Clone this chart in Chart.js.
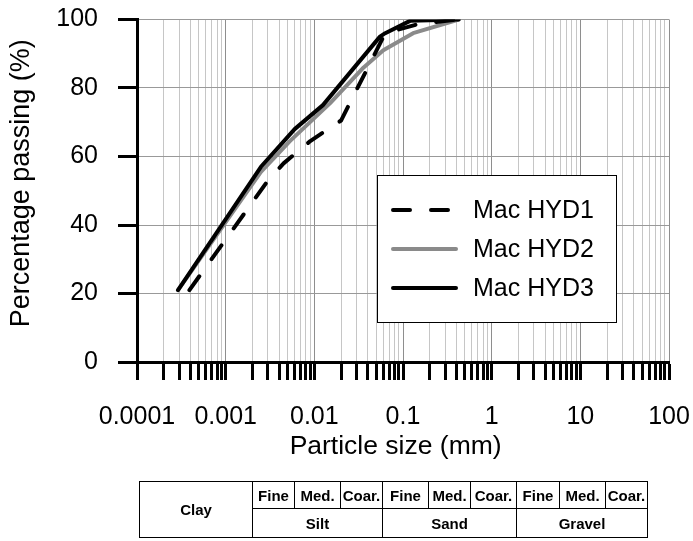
<!DOCTYPE html>
<html>
<head>
<meta charset="utf-8">
<script src="https://cdn.jsdelivr.net/npm/chart.js@4.4.1/dist/chart.umd.min.js"></script>
<style>
    html, body { margin: 0; padding: 0; background: #fff; }
    #wrap { position: relative; width: 693px; height: 541px; }
    #grading {
        position: absolute; left: 139px; top: 481px;
        border-collapse: collapse; table-layout: fixed;
        font: bold 15px "Liberation Sans", Arial, sans-serif; color: #000;
    }
    #grading td {
        border: 1px solid #000; text-align: center; vertical-align: middle;
        padding: 0; overflow: hidden; white-space: nowrap;
    }
    #grading tr.sub td { height: 26px; }
    #grading tr.main td { height: 28px; }
</style>
</head>
<body>
<div id="wrap">
    <canvas id="gradingChart" width="693" height="541"></canvas>
    <table id="grading">
        <colgroup>
            <col style="width:113px"><col style="width:42px"><col style="width:46px"><col style="width:42px">
            <col style="width:46px"><col style="width:42px"><col style="width:46px">
            <col style="width:43px"><col style="width:46px"><col style="width:42px">
        </colgroup>
        <tr class="sub">
            <td rowspan="2">Clay</td>
            <td>Fine</td><td>Med.</td><td>Coar.</td>
            <td>Fine</td><td>Med.</td><td>Coar.</td>
            <td>Fine</td><td>Med.</td><td>Coar.</td>
        </tr>
        <tr class="main">
            <td colspan="3">Silt</td><td colspan="3">Sand</td><td colspan="3">Gravel</td>
        </tr>
    </table>
</div>
<script>
// Particle size distribution (hydrometer + sieve)

const sizeDecades = [0.0001, 0.001, 0.01, 0.1, 1, 10, 100];
const sizeDecadeLabels = ['0.0001', '0.001', '0.01', '0.1', '1', '10', '100'];
const passTicks = [0, 20, 40, 60, 80, 100];

const seriesNames = ['Mac HYD1', 'Mac HYD2', 'Mac HYD3'];

// particle size (mm) / percentage passing (%)
const hyd1Size = [0.00039, 0.003, 0.0045, 0.009, 0.02, 0.063, 0.15, 0.425];
const hyd1Pass = [21, 53, 58, 64.5, 70.5, 96, 98.7, 100];

const hyd2Size = [0.00029, 0.0025, 0.0053, 0.015, 0.036, 0.06, 0.13, 0.425];
const hyd2Pass = [21, 55.5, 64.5, 75.5, 86, 91, 96, 100];

const hyd3Size = [0.00029, 0.0025, 0.006, 0.0125, 0.055, 0.063, 0.12, 0.425];
const hyd3Pass = [21, 57, 68, 75, 95, 96, 99.6, 100];

Chart.defaults.font.family = '"Liberation Sans", Arial, sans-serif';
Chart.defaults.color = '#000';

// log axis ticks: every 1..9 step inside each decade
const sizeTicks = [];
sizeDecades.forEach((d, i) => {
    sizeTicks.push(d);
    if (i < sizeDecades.length - 1) {
        for (let m = 2; m <= 9; m++) sizeTicks.push(+(d * m).toPrecision(3));
    }
});

function decadeIndex(v) {
    return sizeDecades.findIndex(d => Math.abs(v / d - 1) < 1e-6);
}

function toPoints(xs, ys) {
    return xs.map((x, i) => ({ x: x, y: ys[i] }));
}

// keep the plot area where the layout padding puts it
function noEdgePadding(s) {
    s.paddingTop = 0;
    s.paddingBottom = 0;
    s.paddingLeft = 0;
    s.paddingRight = 0;
}

// boxed legend inside the plot area
const boxLegend = {
    id: 'boxLegend',
    afterDraw(chart) {
        const c = chart.ctx;
        const left = 377, top = 175, w = 239, h = 147;
        c.save();
        c.fillStyle = '#fff';
        c.fillRect(left, top, w, h);
        c.strokeStyle = '#000';
        c.lineWidth = 1;
        c.strokeRect(left + 0.5, top + 0.5, w, h);
        c.font = '25px "Liberation Sans", Arial, sans-serif';
        c.textBaseline = 'middle';
        chart.data.datasets.forEach((ds, i) => {
            const y = top + 35 + i * 39;
            c.beginPath();
            c.strokeStyle = ds.borderColor;
            c.lineWidth = ds.borderWidth;
            c.lineCap = 'round';
            c.setLineDash(ds.borderDash || []);
            c.moveTo(left + 16, y);
            c.lineTo(left + 79, y);
            c.stroke();
            c.setLineDash([]);
            c.fillStyle = '#000';
            c.fillText(ds.label, left + 96, y + 1);
        });
        c.restore();
    }
};

const ctx = document.getElementById('gradingChart');
window.gradingChart = new Chart(ctx, {
    type: 'line',
    data: {
        datasets: [{
            label: seriesNames[0],
            data: toPoints(hyd1Size, hyd1Pass),
            borderColor: '#000',
            borderWidth: 4,
            borderDash: [17, 21],
            borderCapStyle: 'round',
            order: 1
        }, {
            label: seriesNames[1],
            data: toPoints(hyd2Size, hyd2Pass),
            borderColor: '#8a8a8a',
            borderWidth: 4,
            borderCapStyle: 'round',
            order: 2
        }, {
            label: seriesNames[2],
            data: toPoints(hyd3Size, hyd3Pass),
            borderColor: '#000',
            borderWidth: 4,
            borderCapStyle: 'round',
            order: 0
        }]
    },
    options: {
        responsive: false,
        animation: false,
        layout: { padding: { top: 19.5, right: 24, bottom: 78.4, left: 0 } },
        elements: {
            point: { radius: 0 },
            line: { tension: 0, borderJoinStyle: 'round', fill: false }
        },
        plugins: {
            legend: { display: false },
            tooltip: { enabled: false }
        },
        scales: {
            x: {
                type: 'logarithmic',
                min: 0.0001,
                max: 100,
                afterBuildTicks: s => { s.ticks = sizeTicks.map(v => ({ value: v })); },
                afterFit: s => { s.height = 100.6; noEdgePadding(s); },
                ticks: {
                    autoSkip: false,
                    maxRotation: 0,
                    padding: 22,
                    font: { size: 25 },
                    callback: v => {
                        const k = decadeIndex(v);
                        return k >= 0 ? sizeDecadeLabels[k] : '';
                    }
                },
                grid: {
                    color: c => (c.tick && decadeIndex(c.tick.value) >= 0) ? '#8e8e8e' : '#c6c6c6',
                    lineWidth: 1,
                    tickColor: '#000',
                    tickWidth: 3,
                    tickLength: 18
                },
                border: { color: '#000', width: 3 },
                // trailing spaces nudge the centred title a little left, as in the original
                title: { display: true, text: 'Particle size (mm)  ', font: { size: 26.5 }, padding: 0 }
            },
            y: {
                min: 0,
                max: 100,
                afterBuildTicks: s => { s.ticks = passTicks.map(v => ({ value: v })); },
                afterFit: s => { s.width = 137; noEdgePadding(s); },
                ticks: { padding: 20, font: { size: 25 } },
                grid: {
                    color: '#999',
                    tickColor: '#000',
                    tickWidth: 3,
                    tickLength: 19
                },
                border: { color: '#000', width: 3 },
                title: { display: true, text: '  Percentage passing (%)', font: { size: 27 }, padding: { top: 5, bottom: 0 } }
            }
        }
    },
    plugins: [boxLegend]
});
</script>
</body>
</html>
